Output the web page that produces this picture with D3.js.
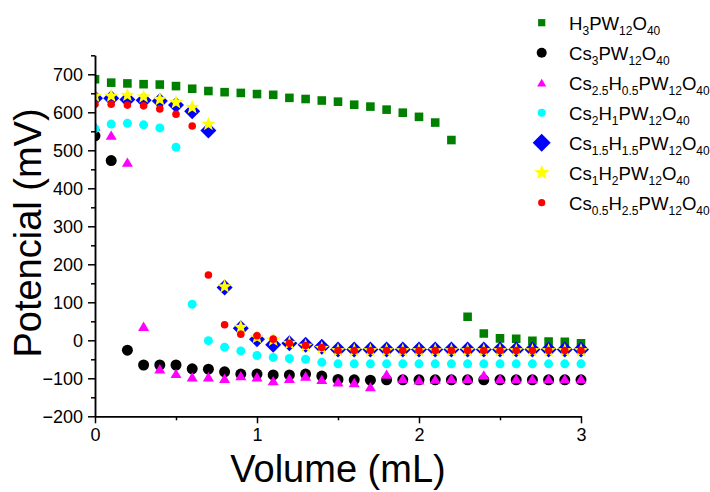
<!DOCTYPE html>
<html>
<head>
<meta charset="utf-8">
<script src="https://cdn.jsdelivr.net/npm/d3@7"></script>
<style>
  html, body { margin: 0; padding: 0; background: #fff; }
  svg { display: block; font-family: "Liberation Sans", Arial, sans-serif; }
</style>
</head>
<body>
<svg id="chart" width="710" height="492"></svg>
<script>
// Titrant volume (mL), shared by every series
const volume = [0, 0.1, 0.2, 0.3, 0.4, 0.5, 0.6, 0.7, 0.8, 0.9, 1.0,
  1.1, 1.2, 1.3, 1.4, 1.5, 1.6, 1.7, 1.8, 1.9, 2.0,
  2.1, 2.2, 2.3, 2.4, 2.5, 2.6, 2.7, 2.8, 2.9, 3.0];

// Potential (mV) for each heteropolyacid / cesium salt
const h3 = [687, 678, 676, 674, 673, 669, 662, 656, 653, 651, 648,
  646, 638, 635, 631, 628, 620, 615, 607, 599, 588,
  573, 527, 62, 18, 5, 4, -1, -3, -4, -8];
const cs3 = [538, 473, -26, -65, -65, -65, -75, -76, -83, -89, -89,
  -91, -91, -89, -94, -103, -104, -105, -104, -104, -104,
  -104, -104, -104, -104, -104, -104, -104, -104, -104, -104];
const cs25 = [564, 540, 469, 37, -75, -87, -96, -96, -100, -93, -96,
  -106, -100, -94, -103, -109, -111, -122, -89, -100, -104,
  -102, -100, -100, -91, -101, -101, -101, -101, -101, -101];
const cs2 = [557, 569, 571, 567, 559, 508, 95, -1, -18, -28, -40,
  -45, -48, -50, -58, -62, -62, -62, -62, -62, -62,
  -62, -62, -62, -62, -62, -62, -62, -62, -62, -62];
const cs15 = [637, 637, 634, 632, 630, 619, 603, 552, 139, 32, 3,
  -12, -8, -12, -17, -24, -24, -24, -24, -24, -24,
  -24, -24, -24, -24, -24, -24, -24, -24, -24, -24];
const cs1 = [643, 643, 645, 641, 634, 626, 613, 569, 141, 34, 8,
  1, -8, -15, -21, -27, -27, -27, -27, -27, -27,
  -27, -27, -27, -27, -27, -27, -27, -27, -27, -27];
const cs05 = [621, 621, 619, 617, 609, 595, 564, 172, 41, 16, 12,
  3, -8, -14, -19, -27, -27, -27, -27, -27, -27,
  -27, -27, -27, -27, -27, -27, -27, -27, -27, -27];

const seriesNames = ["H3PW12O40", "Cs3PW12O40", "Cs2.5H0.5PW12O40", "Cs2H1PW12O40",
  "Cs1.5H1.5PW12O40", "Cs1H2PW12O40", "Cs0.5H2.5PW12O40"];
const seriesValues = [h3, cs3, cs25, cs2, cs15, cs1, cs05];
const seriesColors = ["#008000", "#000000", "#ff00ff", "#00ffff", "#0000ff", "#ffff00", "#ff0000"];
const seriesShapes = ["square", "circle", "triangle", "circle", "diamond", "star", "circle"];
const seriesSizes = [4.3, 5.5, 5.5, 4.5, 8, 7.5, 3.8];

const xTicks = [0, 1, 2, 3];
const yTicks = [-200, -100, 0, 100, 200, 300, 400, 500, 600, 700];

// Layout
const plotLeft = 95, plotRight = 581, plotTop = 55.3, plotBottom = 416.3;

const svg = d3.select("#chart");
const x = d3.scaleLinear().domain([0, 3]).range([plotLeft, plotRight]);
const y = d3.scaleLinear().domain([-200, 750]).range([plotBottom, plotTop]);

// Marker path generator, centred on the origin
function markerPath(shape, s) {
  switch (shape) {
    case "square":
      return `M${-s},${-s}H${s}V${s}H${-s}Z`;
    case "circle":
      return `M${s},0A${s},${s} 0 1,1 ${-s},0A${s},${s} 0 1,1 ${s},0Z`;
    case "triangle": {
      const h = s * 0.85;
      return `M0,${-h}L${s},${h}L${-s},${h}Z`;
    }
    case "diamond":
      return `M0,${-s}L${s},0L0,${s}L${-s},0Z`;
    case "star": {
      const pts = [];
      for (let i = 0; i < 10; i++) {
        const r = i % 2 === 0 ? s : s * 0.42;
        const a = -Math.PI / 2 + i * Math.PI / 5;
        pts.push([r * Math.cos(a), r * Math.sin(a)]);
      }
      return "M" + pts.map(p => p[0].toFixed(2) + "," + p[1].toFixed(2)).join("L") + "Z";
    }
  }
}

// Clip markers to the plotting area
svg.append("defs").append("clipPath").attr("id", "plot-clip")
  .append("rect").attr("x", plotLeft).attr("y", 0)
  .attr("width", plotRight - plotLeft + 10).attr("height", plotBottom);

const plot = svg.append("g").attr("clip-path", "url(#plot-clip)");
seriesValues.forEach((vals, i) => {
  plot.append("g").selectAll("path")
    .data(vals.map((v, j) => [volume[j], v]))
    .join("path")
    .attr("transform", d => `translate(${x(d[0])},${y(d[1])})`)
    .attr("d", markerPath(seriesShapes[i], seriesSizes[i]))
    .attr("fill", seriesColors[i]);
});

// Axes
const tickFont = "18px";
svg.append("g").attr("transform", `translate(${plotLeft},0)`)
  .call(d3.axisLeft(y).tickValues(yTicks).tickFormat(d3.format("d"))
    .tickSize(7).tickPadding(5).tickSizeOuter(0));
svg.append("g").attr("transform", `translate(${plotLeft},0)`)
  .call(d3.axisLeft(y).tickValues(d3.range(-150, 751, 100)).tickSize(4).tickFormat("").tickSizeOuter(0));
svg.append("g").attr("transform", `translate(0,${plotBottom})`)
  .call(d3.axisBottom(x).tickValues(xTicks).tickFormat(d3.format("d"))
    .tickSize(7).tickPadding(5).tickSizeOuter(0));
svg.append("g").attr("transform", `translate(0,${plotBottom})`)
  .call(d3.axisBottom(x).tickValues([0.5, 1.5, 2.5]).tickSize(4).tickFormat("").tickSizeOuter(0));

svg.selectAll(".domain, .tick line").attr("stroke", "#000").attr("stroke-width", 1.5);
svg.selectAll(".tick text").attr("fill", "#000").style("font-size", tickFont)
  .style("font-family", "'Liberation Sans', Arial, sans-serif");

// Axis titles
svg.append("text")
  .attr("x", 338).attr("y", 482)
  .attr("text-anchor", "middle")
  .style("font-size", "38px")
  .text("Volume (mL)");
svg.append("text")
  .attr("transform", "translate(41,233) rotate(-90)")
  .attr("text-anchor", "middle")
  .style("font-size", "38px")
  .text("Potencial (mV)");

// Legend with chemical formulas (numbers as subscripts)
const legend = svg.append("g");
const legendX = 541.7, legendTextX = 569, legendY0 = 22.7, legendStep = 30;
const legendSizes = [3.6, 5, 4.6, 4, 9, 8, 3.6];
seriesNames.forEach((name, i) => {
  const cy = legendY0 + i * legendStep;
  legend.append("path")
    .attr("transform", `translate(${legendX},${cy})`)
    .attr("d", markerPath(seriesShapes[i], legendSizes[i]))
    .attr("fill", seriesColors[i]);
  const t = legend.append("text")
    .attr("x", legendTextX).attr("y", cy + 7)
    .style("font-size", "18.6px").attr("fill", "#000");
  const parts = [...name.matchAll(/([A-Z][a-z]?)([\d.]*)/g)];
  let shifted = false;
  parts.forEach(p => {
    t.append("tspan").attr("dy", shifted ? -5 : 0).text(p[1]);
    shifted = false;
    if (p[2]) {
      t.append("tspan").attr("dy", 5).style("font-size", "12px").text(p[2]);
      shifted = true;
    }
  });
});
</script>
</body>
</html>
